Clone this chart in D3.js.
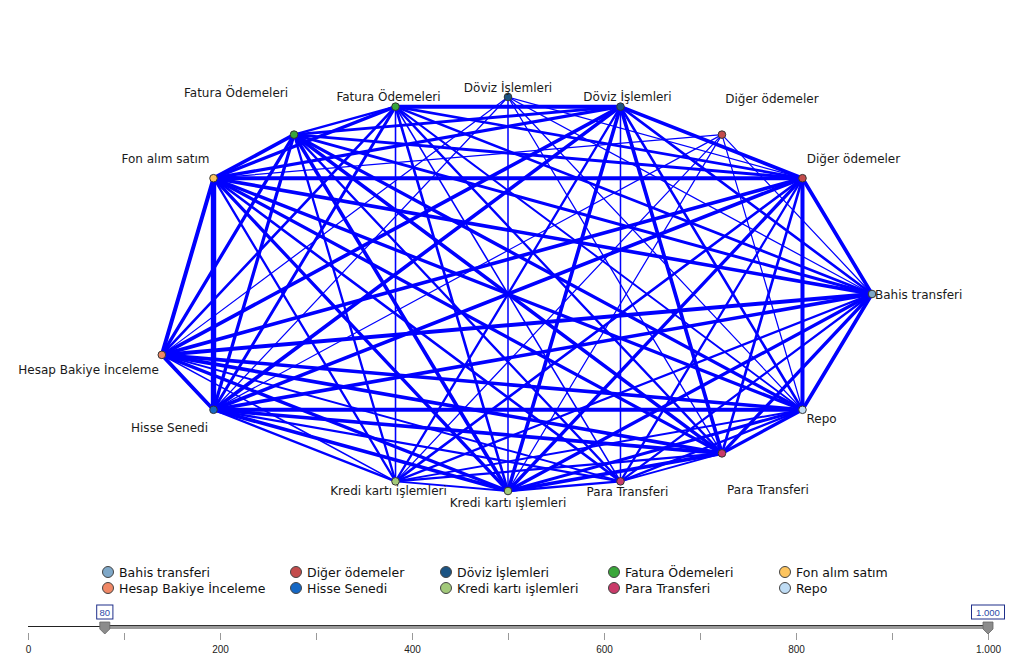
<!DOCTYPE html>
<html><head><meta charset="utf-8">
<script src="https://cdn.jsdelivr.net/npm/d3@7/dist/d3.min.js"></script>
<style>
html,body{margin:0;padding:0;background:#fff;}
svg{display:block;font-family:"DejaVu Sans",sans-serif;}
</style></head>
<body><svg id="c" width="1013" height="666"></svg>
<script>
// ---------- data ----------
const categories = ["Bahis transferi","Diğer ödemeler","Döviz İşlemleri","Fatura Ödemeleri","Fon alım satım",
  "Hesap Bakiye İnceleme","Hisse Senedi","Kredi kartı işlemleri","Para Transferi","Repo"];
const categoryColors = ["#7fa8c8","#c34c4c","#1c5483","#3aa63a","#fdc45e","#f08866","#1467c4","#a2c97a","#c93a69","#bfdcf4"];
// nodes in their ring order (clockwise from the top)
const nodeNames = ["Döviz İşlemleri","Döviz İşlemleri","Diğer ödemeler","Diğer ödemeler","Bahis transferi","Repo",
  "Para Transferi","Para Transferi","Kredi kartı işlemleri","Kredi kartı işlemleri","Hisse Senedi",
  "Hesap Bakiye İnceleme","Fon alım satım","Fatura Ödemeleri","Fatura Ödemeleri"];
// link counts: [source, target, count]
const links = [
 [0,3,100],[0,4,100],[0,5,100],[0,6,110],[0,8,140],[0,10,100],[0,11,100],
 [1,3,450],[1,4,300],[1,5,300],[1,6,450],[1,7,140],[1,8,450],[1,9,250],[1,10,450],[1,11,450],[1,12,400],[1,13,350],[1,14,500],
 [2,4,100],[2,5,100],[2,8,100],[2,9,100],[2,10,100],[2,12,100],
 [3,4,450],[3,5,500],[3,6,300],[3,7,250],[3,8,400],[3,9,300],[3,10,450],[3,11,450],[3,12,500],[3,13,350],[3,14,300],
 [4,5,450],[4,6,400],[4,7,250],[4,8,400],[4,9,250],[4,10,450],[4,11,500],[4,12,450],[4,13,350],[4,14,300],
 [5,6,400],[5,7,250],[5,8,350],[5,9,200],[5,10,500],[5,11,450],[5,12,400],[5,13,400],[5,14,200],
 [6,7,200],[6,8,450],[6,9,250],[6,10,450],[6,11,450],[6,12,400],[6,13,450],[6,14,250],
 [7,8,250],[7,10,250],[7,11,200],[7,12,300],[7,13,250],[7,14,150],
 [8,9,200],[8,10,450],[8,11,400],[8,12,400],[8,13,450],[8,14,300],
 [9,10,250],[9,11,150],[9,12,250],[9,13,250],[9,14,150],
 [10,11,450],[10,12,700],[10,13,400],[10,14,350],
 [11,12,500],[11,13,400],[11,14,300],
 [12,13,450],[12,14,400],
 [13,14,250]
];
const sliderTicks = [0,200,400,600,800,1000];
const sliderRange = [80,1000];

// ---------- layout (not data) ----------
const ringSlot = [0,1,2,3,5,7,8,9,10,11,13,14,17,18,19]; // 20 slots around the ring
const labelPos = [[0,-5,"middle"],[7,-6,"middle"],[50,-32,"middle"],[51,-15,"middle"],[3,5,"start"],[4,13,"start"],
  [46,41,"middle"],[7,15,"middle"],[0,16,"middle"],[-7,14,"middle"],[-44,22,"middle"],[-3,19,"end"],
  [-48,-15,"middle"],[-58,-38,"middle"],[-7,-6,"middle"]];

const svg = d3.select("#c");
const cx = 508, cy = 294, rx = 364, ry = 197;
const ang = d3.scaleLinear().domain([0,20]).range([-Math.PI/2, 1.5*Math.PI]);
const nodes = nodeNames.map((n,i)=>{
  const a = ang(ringSlot[i]);
  return {name:n, x: cx + rx*Math.cos(a), y: cy + ry*Math.sin(a), color: categoryColors[categories.indexOf(n)]};
});
const width = d3.scaleLinear().domain([80,700]).range([1.1,5.4]);

const visible = links.filter(l=>l[2]>=sliderRange[0] && l[2]<=sliderRange[1]);
svg.append("g").selectAll("line").data(visible).join("line")
  .attr("x1",d=>nodes[d[0]].x).attr("y1",d=>nodes[d[0]].y)
  .attr("x2",d=>nodes[d[1]].x).attr("y2",d=>nodes[d[1]].y)
  .attr("stroke","#0000ff").attr("stroke-width",d=>width(d[2])).attr("stroke-linecap","round");

const ng = svg.append("g").selectAll("g").data(nodes).join("g");
ng.append("circle").attr("cx",d=>d.x).attr("cy",d=>d.y).attr("r",3.8)
  .attr("fill",d=>d.color).attr("stroke","#333").attr("stroke-width",1);
ng.append("text").attr("x",(d,i)=>d.x+labelPos[i][0]).attr("y",(d,i)=>d.y+labelPos[i][1])
  .attr("text-anchor",(d,i)=>labelPos[i][2]).attr("font-size",12).attr("fill","#1a1a1a").text(d=>d.name);

// legend
const colX = [108,296,446,614,785];
const lg = svg.append("g").selectAll("g").data(categories).join("g")
  .attr("transform",(d,i)=>`translate(${colX[i%5]},${572+16*Math.floor(i/5)})`);
lg.append("circle").attr("r",5.5).attr("fill",(d,i)=>categoryColors[i]).attr("stroke","#444").attr("stroke-width",1);
lg.append("text").attr("x",11).attr("y",4.5).attr("font-size",12.5).attr("fill","#111").text(d=>d);

// slider
const loc = d3.formatLocale({decimal:",",thousands:".",grouping:[3],currency:["","₺"]});
const sx = d3.scaleLinear().domain([0,1000]).range([28,988]);
const sy = 627;
svg.append("line").attr("x1",sx(0)).attr("x2",sx(sliderRange[0])).attr("y1",sy-0.5).attr("y2",sy-0.5).attr("stroke","#222").attr("stroke-width",1);
svg.append("rect").attr("x",sx(sliderRange[0])).attr("y",sy-2).attr("width",sx(sliderRange[1])-sx(sliderRange[0])).attr("height",4).attr("fill","#9a9a9a");
svg.append("line").attr("x1",sx(sliderRange[0])).attr("x2",sx(sliderRange[1])).attr("y1",sy-1.5).attr("y2",sy-1.5).attr("stroke","#333").attr("stroke-width",1);
const axis = d3.axisBottom(sx).tickValues(d3.range(0,1001,100)).tickSize(0).tickFormat(v=>sliderTicks.includes(v)?loc.format(",")(v):"");
const ag = svg.append("g").attr("transform",`translate(0,${sy+6})`).call(axis);
ag.select(".domain").remove();
ag.selectAll(".tick").append("line").attr("y1",0).attr("y2",7).attr("stroke","#999");
ag.selectAll(".tick text").attr("y",13).attr("font-size",10).attr("font-family","Liberation Sans Narrow, Liberation Sans, sans-serif").attr("fill","#222");

sliderRange.forEach(v=>{
  const x = sx(v);
  svg.append("path").attr("d",`M${x-5},${sy-5}L${x+5},${sy-5}L${x+5},${sy+2}L${x},${sy+7}L${x-5},${sy+2}Z`)
    .attr("fill","#8c8c8c").attr("stroke","#666").attr("stroke-width",0.8);
  const t = loc.format(",")(v);
  const w = t.length*5.6+5;
  svg.append("rect").attr("x",x-w/2).attr("y",605).attr("width",w).attr("height",14).attr("fill","#fff").attr("stroke","#1f2f8a").attr("stroke-width",1);
  svg.append("text").attr("x",x).attr("y",616).attr("text-anchor","middle").attr("font-size",9.5)
    .attr("font-family","Liberation Sans, sans-serif").attr("fill","#2a4aa8").text(t);
});
</script></body></html>
